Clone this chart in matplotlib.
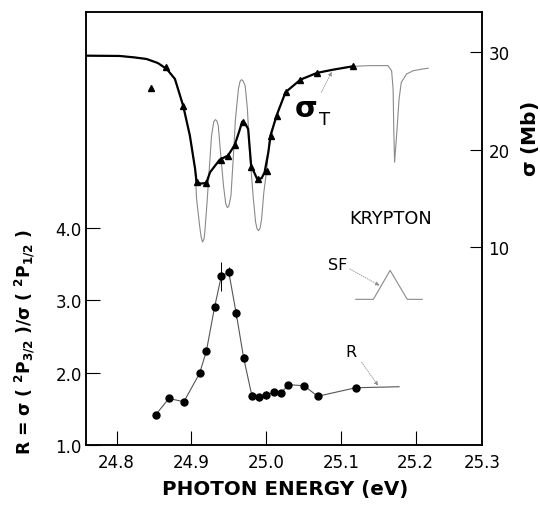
import matplotlib
matplotlib.use("Agg")
import matplotlib.pyplot as plt

plt.rcParams['font.family'] = ['DejaVu Sans']
plt.rcParams['mathtext.default'] = 'bf'

# ---- data ----
# thin (high-resolution) cross-section curve, sigma in Mb
thin_E = [24.759, 24.804, 24.824, 24.840, 24.855, 24.867, 24.878, 24.889, 24.898, 24.905,
          24.907, 24.911, 24.913, 24.915, 24.917, 24.918, 24.921, 24.924, 24.927, 24.930,
          24.932, 24.934, 24.936, 24.939, 24.943, 24.946, 24.948, 24.950, 24.953, 24.956,
          24.959, 24.963, 24.965, 24.967, 24.969, 24.972, 24.975, 24.978, 24.983, 24.986,
          24.988, 24.990, 24.992, 24.994, 24.997, 25.001, 25.005, 25.014, 25.026, 25.046,
          25.068, 25.088, 25.116, 25.140, 25.163, 25.168, 25.170, 25.171, 25.172, 25.175,
          25.178, 25.181, 25.188, 25.197, 25.210, 25.217]
thin_S = [29.67, 29.64, 29.49, 29.33, 28.92, 28.31, 27.28, 24.54, 21.47, 18.05,
          14.97, 12.24, 11.10, 10.55, 10.90, 11.56, 14.64, 18.05, 21.47, 22.90,
          23.11, 23.00, 22.49, 19.76, 16.34, 14.50, 14.10, 14.20, 15.31, 19.08,
          23.18, 26.26, 27.00, 27.21, 27.10, 26.59, 24.21, 19.76, 14.97, 12.58,
          11.90, 11.72, 12.00, 12.92, 15.66, 18.05, 21.47, 23.52, 25.92, 27.21,
          27.90, 28.21, 28.58, 28.65, 28.65, 28.13, 26.26, 21.82, 18.74, 21.82,
          25.23, 26.94, 27.79, 28.13, 28.31, 28.38]

# thick measured sigma_T curve
thick_E = [24.759, 24.804, 24.824, 24.840, 24.855, 24.867, 24.878, 24.889, 24.898, 24.905,
           24.907, 24.913, 24.920, 24.925, 24.938, 24.949, 24.958, 24.964, 24.968, 24.972,
           24.976, 24.980, 24.988, 24.994, 24.998, 25.003, 25.006, 25.014, 25.026, 25.046,
           25.068, 25.088, 25.116]
thick_S = [29.67, 29.64, 29.49, 29.33, 28.92, 28.31, 27.28, 24.54, 21.47, 18.05,
           16.69, 16.55, 16.62, 17.71, 19.01, 19.42, 20.51, 21.90, 22.90, 22.70,
           22.15, 18.39, 17.03, 17.10, 17.71, 19.76, 21.47, 23.52, 25.92, 27.21,
           27.90, 28.21, 28.58]

# triangles (measured sigma_T points)
tri_E = [24.846, 24.866, 24.889, 24.907, 24.919, 24.939, 24.949, 24.958, 24.969, 24.980,
         24.989, 25.001, 25.006, 25.014, 25.026, 25.046, 25.068, 25.116]
tri_S = [26.33, 28.54, 24.54, 16.69, 16.62, 19.01, 19.42, 20.51, 22.90, 18.23,
         17.03, 17.88, 21.41, 23.46, 25.92, 27.21, 27.90, 28.58]

# branching ratio R points
R_E = [24.852, 24.870, 24.890, 24.911, 24.920, 24.931, 24.940, 24.950, 24.960, 24.970,
       24.981, 24.990, 25.000, 25.010, 25.020, 25.030, 25.051, 25.069, 25.120]
R_V = [1.414, 1.642, 1.597, 1.989, 2.292, 2.899, 3.327, 3.390, 2.817, 2.200,
       1.680, 1.658, 1.690, 1.727, 1.717, 1.832, 1.818, 1.672, 1.790]
R_err = [0.02, 0.03, 0.02, 0.03, 0.04, 0.04, 0.20, 0.06, 0.06, 0.06,
         0.05, 0.05, 0.05, 0.04, 0.03, 0.03, 0.02, 0.02, 0.02]
R_line_E = R_E + [25.178]
R_line_V = R_V + [1.804]

# instrumental slit function (triangle)
SF_E = [25.120, 25.1436, 25.166, 25.189, 25.209]
SF_V = [3.01, 3.01, 3.41, 3.01, 3.01]

x_ticks = [24.8, 24.9, 25.0, 25.1, 25.2]
x_tick_labels = ['24.8', '24.9', '25.0', '25.1', '25.2']
R_ticks = [1.0, 2.0, 3.0, 4.0]
R_tick_labels = ['1.0', '2.0', '3.0', '4.0']
S_ticks = [10, 20, 30]
S_tick_labels = ['10', '20', '30']

# ---- figure ----
fig = plt.figure(figsize=(5.4, 5.06), dpi=100)
ax = fig.add_axes([0.1593, 0.1186, 0.7333, 0.8563])
ax2 = ax.twinx()

ax.set_xlim(24.759, 25.289)
ax.set_ylim(1.0, 6.98)
ax2.set_ylim(-10.26, 34.18)

gray = '#8a8a8a'
# sigma curves
ax2.plot(thin_E, thin_S, color=gray, lw=0.8, zorder=2)
ax2.plot(thick_E, thick_S, color='black', lw=1.6, zorder=3)
ax2.plot(tri_E, tri_S, linestyle='none', marker='^', color='black', ms=4.5, zorder=4)

# R curve
ax.plot(R_line_E, R_line_V, color='#555555', lw=0.8, zorder=2)
ax.errorbar(R_E, R_V, yerr=R_err, fmt='o', color='black', ms=5, elinewidth=0.7,
            capsize=0, zorder=3)
ax.plot(SF_E, SF_V, color=gray, lw=0.8)

# ticks
for a in (ax, ax2):
    for s in a.spines.values():
        s.set_linewidth(1.1)
ax.set_xticks(x_ticks)
ax.set_xticklabels(x_tick_labels)
ax.set_yticks(R_ticks)
ax.set_yticklabels(R_tick_labels)
ax2.set_yticks(S_ticks)
ax2.set_yticklabels(S_tick_labels)
ax.tick_params(axis='x', direction='in', length=10, width=0.8, pad=6, labelsize=12)
ax.tick_params(axis='y', direction='in', length=10, width=0.8, pad=3, labelsize=12)
ax2.tick_params(axis='y', direction='in', length=8.5, width=0.8, pad=4.5, labelsize=12)
ax.annotate('25.3', xy=(1.0, 0.0), xycoords='axes fraction', xytext=(0.5, -6),
            textcoords='offset points', ha='center', va='top', fontsize=12)

# labels
fig.text(0.528, 1 - 490 / 506, 'PHOTON ENERGY (eV)', ha='center', va='center',
         fontsize=14.3, fontweight='bold')
fig.text(530 / 540, 1 - 139 / 506, r'$\sigma$ (Mb)', ha='center', va='center',
         rotation=90, fontsize=14.5, fontweight='bold')
fig.text(25 / 540, 1 - 342 / 506,
         r'R = $\sigma$ ( $^2$P$_{3/2}$ )/$\sigma$ ( $^2$P$_{1/2}$ )',
         ha='center', va='center', rotation=90, fontsize=12.3, fontweight='bold')

ax.text(25.167, 4.131, 'KRYPTON', ha='center', va='center', fontsize=12.8)
ax.text(25.096, 3.497, 'SF', ha='center', va='center', fontsize=11.5)
ax.text(25.113, 2.287, 'R', ha='center', va='center', fontsize=11.5)
ax2.text(25.053, 24.3, r'$\sigma$', ha='center', va='center', fontsize=21)
ax2.text(25.078, 23.2, 'T', ha='center', va='center', fontsize=13)

arrow = dict(arrowstyle='-|>', color=gray, lw=0.6, linestyle=':', mutation_scale=6,
             shrinkA=0, shrinkB=0)
ax.annotate('', xy=(25.152, 3.20), xytext=(25.112, 3.43), arrowprops=arrow)
ax.annotate('', xy=(25.150, 1.818), xytext=(25.128, 2.141), arrowprops=arrow)
ax2.annotate('', xy=(25.088, 28.03), xytext=(25.074, 25.92), arrowprops=arrow)

fig.savefig('out.png', dpi=100)
